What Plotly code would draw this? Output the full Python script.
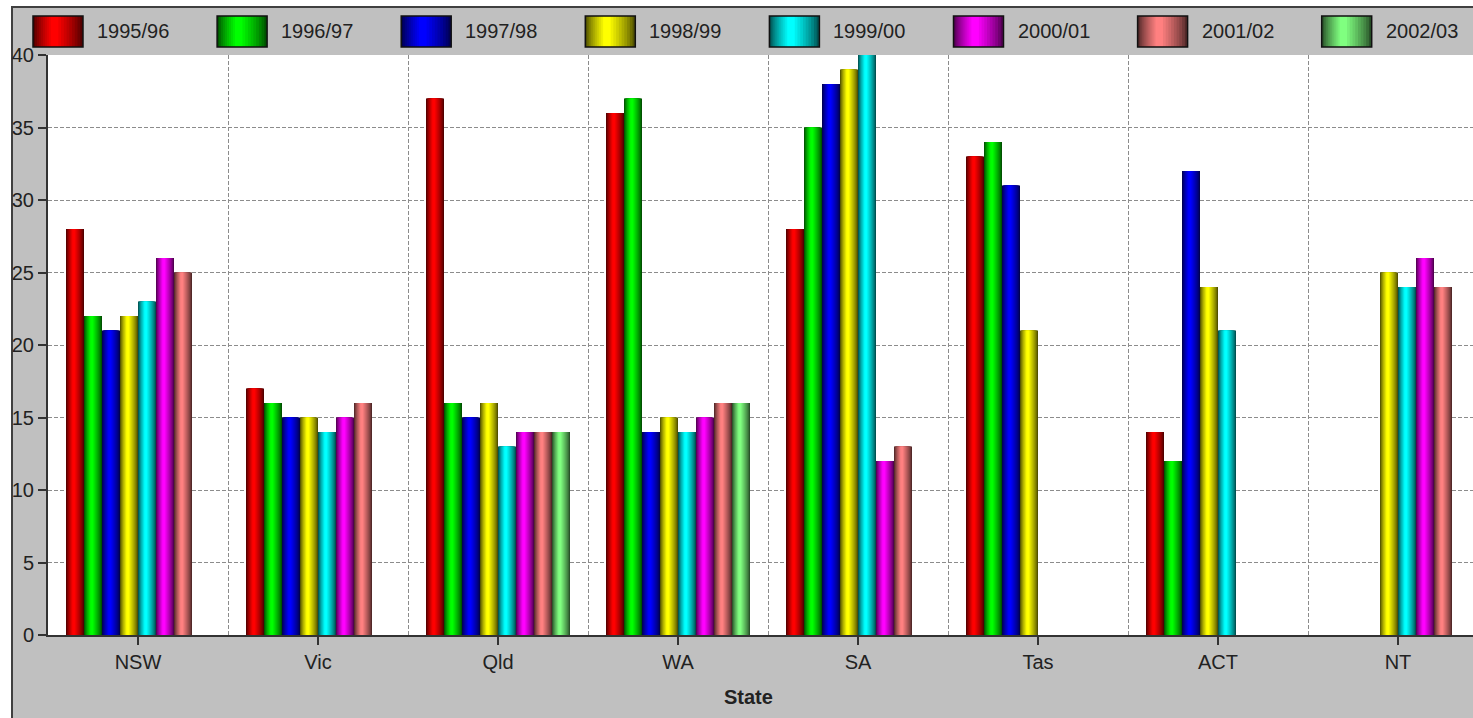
import plotly.graph_objects as go

# ---- data -------------------------------------------------------------
STATES = ["NSW", "Vic", "Qld", "WA", "SA", "Tas", "ACT", "NT"]
YEARS = ["1995/96", "1996/97", "1997/98", "1998/99",
         "1999/00", "2000/01", "2001/02", "2002/03"]

v_1995 = [28, 17, 37, 36, 28, 33, 14, None]
v_1996 = [22, 16, 16, 37, 35, 34, 12, None]
v_1997 = [21, 15, 15, 14, 38, 31, 32, None]
v_1998 = [22, 15, 16, 15, 39, 21, 24, 25]
v_1999 = [23, 14, 13, 14, 40, None, 21, 24]
v_2000 = [26, 15, 14, 15, 12, None, None, 26]
v_2001 = [25, 16, 14, 16, 13, None, None, 24]
v_2002 = [None, None, 14, 16, None, None, None, None]
SERIES = [v_1995, v_1996, v_1997, v_1998, v_1999, v_2000, v_2001, v_2002]

BASE_COLORS = [(255, 0, 0), (0, 255, 0), (0, 0, 255), (255, 255, 0),
               (0, 255, 255), (255, 0, 255), (255, 128, 128), (128, 255, 128)]

Y_TICKS = [0, 5, 10, 15, 20, 25, 30, 35, 40]

# ---- geometry (pixels) ------------------------------------------------
W, H = 1473, 718
ML, MR, MT, MB = 48, 0, 55, 83
PW, PH = W - ML - MR, H - MT - MB
PX_PER_CAT = 180.0
X_RANGE = [-0.5, -0.5 + PW / PX_PER_CAT]

GROUP = 0.8                  # fraction of a category used by the bar group
BAR_W = GROUP / len(YEARS)
HILITE = 0.42                # horizontal position of the bright band
N_LAYERS = 10
# (width fraction, brightness): wide dark strip first, narrow bright strip last
LAYERS = [(1.0 - 0.85 * k / (N_LAYERS - 1), 0.32 + 0.68 * (k / (N_LAYERS - 1)) ** 0.8)
          for k in range(N_LAYERS)]

FONT = "Liberation Sans, Arial, sans-serif"
TXT = "#222222"


def shade(rgb, k):
    return "rgb(%d,%d,%d)" % tuple(int(round(c * k)) for c in rgb)


def px2x(px):
    return (px - ML) / PW


def px2y(py):
    return (H - MB - py) / PH


fig = go.Figure()
xs = list(range(len(STATES)))

# shaded cylinder-like bars: nested strips, darkest at the edges
for s, (vals, rgb) in enumerate(zip(SERIES, BASE_COLORS)):
    left = -GROUP / 2 + s * BAR_W
    for frac, bright in LAYERS:
        x0 = left + BAR_W * HILITE * (1 - frac)
        fig.add_trace(go.Bar(
            x=xs, y=vals, width=frac * BAR_W, offset=x0,
            marker=dict(color=shade(rgb, bright), line=dict(width=0)),
            name=YEARS[s], showlegend=False, hoverinfo="y+name",
        ))

shapes = []
annotations = []

# white surround and panel border
shapes.append(dict(type="rect", xref="paper", yref="paper", layer="below",
                   x0=px2x(0), x1=px2x(W + 5), y0=px2y(7), y1=px2y(-5),
                   fillcolor="white", line=dict(width=0)))
shapes.append(dict(type="rect", xref="paper", yref="paper", layer="below",
                   x0=px2x(-5), x1=px2x(12), y0=px2y(H + 5), y1=px2y(-5),
                   fillcolor="white", line=dict(width=0)))
shapes.append(dict(type="rect", xref="paper", yref="paper", layer="below",
                   x0=px2x(12), x1=px2x(W + 20), y0=px2y(H + 20), y1=px2y(7),
                   fillcolor="rgba(0,0,0,0)", line=dict(color="#404040", width=2)))

# legend row with shaded swatches
SW_X0, SW_STEP, SW_W, SW_Y0, SW_Y1 = 33, 184.1, 50, 16, 47
for i, (year, rgb) in enumerate(zip(YEARS, BASE_COLORS)):
    sx = SW_X0 + i * SW_STEP
    for frac, bright in LAYERS:
        a = sx + SW_W * HILITE * (1 - frac)
        shapes.append(dict(type="rect", xref="paper", yref="paper", layer="above",
                           x0=px2x(a), x1=px2x(a + frac * SW_W),
                           y0=px2y(SW_Y1), y1=px2y(SW_Y0),
                           fillcolor=shade(rgb, bright), line=dict(width=0)))
    shapes.append(dict(type="rect", xref="paper", yref="paper", layer="above",
                       x0=px2x(sx), x1=px2x(sx + SW_W),
                       y0=px2y(SW_Y1), y1=px2y(SW_Y0),
                       fillcolor="rgba(0,0,0,0)", line=dict(color="#111111", width=1.5)))
    annotations.append(dict(xref="paper", yref="paper", x=px2x(sx + 62),
                            y=px2y((SW_Y0 + SW_Y1) / 2), text=year, showarrow=False,
                            xanchor="left", yanchor="middle",
                            font=dict(family=FONT, size=20, color=TXT)))

# axis title
annotations.append(dict(xref="paper", yref="paper", x=px2x(748), y=px2y(697),
                        text="<b>State</b>", showarrow=False,
                        xanchor="center", yanchor="middle",
                        font=dict(family=FONT, size=20, color=TXT)))

fig.update_layout(
    width=W, height=H,
    margin=dict(l=ML, r=MR, t=MT, b=MB, pad=0),
    paper_bgcolor="#C0C0C0", plot_bgcolor="white",
    barmode="overlay", showlegend=False,
    shapes=shapes, annotations=annotations,
    font=dict(family=FONT, size=20, color=TXT),
    xaxis=dict(
        range=X_RANGE, tickmode="array", tickvals=xs, ticktext=STATES,
        showgrid=False, zeroline=False,
        showline=True, linecolor="#333333", linewidth=2,
        ticks="outside", ticklen=8, tickwidth=1.5, tickcolor="#333333",
        tickfont=dict(family=FONT, size=20, color=TXT),
        minor=dict(tickmode="linear", tick0=0.5, dtick=1, showgrid=True,
                   gridcolor="#8c8c8c", gridwidth=1, griddash="4px,2px",
                   ticks=""),
        fixedrange=True,
    ),
    yaxis=dict(
        range=[0, 40], tickmode="array", tickvals=Y_TICKS,
        showgrid=True, gridcolor="#8c8c8c", gridwidth=1, griddash="4px,2px",
        zeroline=False,
        showline=True, linecolor="#333333", linewidth=2,
        ticks="outside", ticklen=8, tickwidth=1.5, tickcolor="#333333",
        tickfont=dict(family=FONT, size=20, color=TXT),
        fixedrange=True,
    ),
)

fig.write_html("out.html")
